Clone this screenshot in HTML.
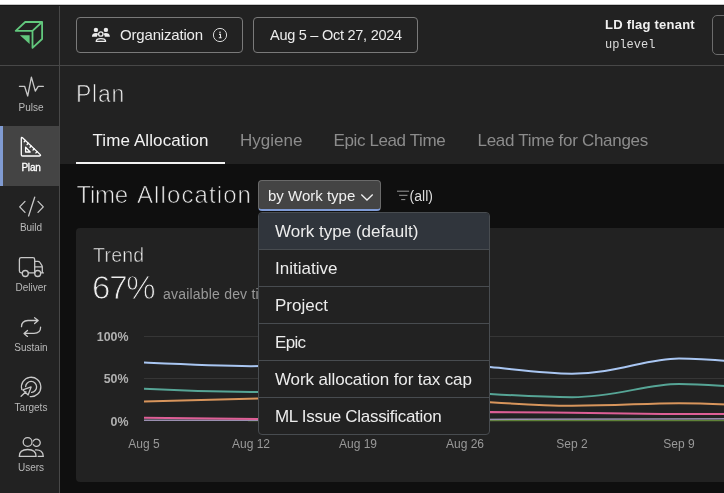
<!DOCTYPE html>
<html>
<head>
<meta charset="utf-8">
<title>Plan - Time Allocation</title>
<style>
  html, body { margin: 0; padding: 0; }
  body {
    width: 724px; height: 493px; overflow: hidden; position: relative;
    background: #ffffff;
    font-family: "Liberation Sans", sans-serif;
    color: #e6e6e6;
  }
  .abs { position: absolute; }
  #app { will-change: transform; position: absolute; left: 0; top: 5px; width: 724px; height: 488px; background: #222222; }
  /* sidebar */
  #sidebar { position: absolute; left: 0; top: 0; width: 59px; height: 488px; background: #222222; border-right: 1px solid #484848; }
  #logo { position: absolute; left: 0; top: 0; width: 59px; height: 60px; border-bottom: 1px solid #484848; }
  .nav { position: absolute; left: 0; width: 59px; height: 60px; }
  .nav.active { background: #444444; }
  .nav.active::before { content: ""; position: absolute; left: 0; top: 0; width: 3px; height: 60px; background: #809bd2; }
  .nav .lbl { position: absolute; left: 1px; width: 60px; top: 36px; text-align: center; font-size: 10px; line-height: 12px; color: #b9b9b9; }
  .nav.active .lbl { color: #ffffff; -webkit-text-stroke: 0.3px #ffffff; letter-spacing: -0.2px; }
  .nav svg { position: absolute; left: 0; top: -1px; }
  .ic { fill: none; stroke: #c8c8c8; stroke-width: 1.3; stroke-linecap: round; stroke-linejoin: round; }
  .nav.active .ic { stroke: #ffffff; }
  /* header */
  #header { position: absolute; left: 60px; top: 0; width: 664px; height: 60px; border-bottom: 1px solid #484848; background: #222222; }
  .hbtn { position: absolute; top: 12px; height: 34px; border: 1px solid #7a7a7a; border-radius: 4px; box-sizing: content-box; font-size: 15px; color: #ececec; }
  /* main */
  #top { position: absolute; left: 60px; top: 61px; width: 664px; height: 98px; background: #222222; }
  #dark { position: absolute; left: 60px; top: 159px; width: 664px; height: 329px; background: #0f0f0f; }
  .tab { position: absolute; top: 124px; font-size: 17px; line-height: 24px; color: #8c8c8c; white-space: nowrap; }
  .tab.on { color: #f2f2f2; }
  #card { position: absolute; left: 76px; top: 223px; width: 660px; height: 254px; background: #222222; border-radius: 4px; }
  #menu { position: absolute; left: 258px; top: 207px; width: 230px; height: 221px; background: #222222; border: 1px solid #484c50; border-radius: 4px; overflow: hidden; }
  .mi { position: absolute; left: 0; width: 230px; height: 36px; border-bottom: 1px solid #484c50; font-size: 17px; line-height: 36px; color: #ececec; white-space: nowrap; }
  .mi span { position: absolute; left: 16px; top: 1px; }
  .mi.hl { background: #30353c; }
</style>
</head>
<body>
<div id="app">

  <!-- header -->
  <div id="header">
    <div class="hbtn" style="left:16px; width:165px;">
      <svg class="abs" style="left:14px; top:9px;" width="20" height="16" viewBox="0 0 20 16">
        <g fill="#ececec">
          <circle cx="4.9" cy="2.9" r="2.2"/>
          <circle cx="14.9" cy="2.9" r="2.2"/>
          <path d="M0.9 9.7 C0.9 7 2.8 6.1 5 6.1 C6 6.1 6.8 6.3 7.4 6.7 C6.5 7.5 6.1 8.6 6 9.7 Z"/>
          <path d="M18.9 9.7 C18.9 7 17 6.1 14.8 6.1 C13.8 6.1 13 6.3 12.4 6.7 C13.3 7.5 13.7 8.6 13.8 9.7 Z"/>
        </g>
        <circle cx="9.8" cy="7" r="2.2" fill="none" stroke="#ececec" stroke-width="1.3"/>
        <path d="M5.2 14.4 C5.2 12.1 7 11.6 9.9 11.6 C12.8 11.6 14.6 12.1 14.6 14.4 Z" fill="none" stroke="#ececec" stroke-width="1.3" stroke-linejoin="round"/>
      </svg>
      <span class="abs" style="left:43px; top:8px; line-height:18px; letter-spacing:-0.18px;">Organization</span>
      <svg class="abs" style="left:135px; top:9px;" width="16" height="16" viewBox="0 0 16 16">
        <circle cx="8" cy="8" r="6.6" fill="none" stroke="#dadada" stroke-width="1"/>
        <circle cx="8" cy="5.3" r="0.8" fill="#e4e4e4"/>
        <path d="M7 7.4 H8.5 V10.6 M6.8 10.8 H9.6" fill="none" stroke="#e4e4e4" stroke-width="1.1"/>
      </svg>
    </div>
    <div class="hbtn" style="left:193px; width:163px;">
      <span class="abs" style="left:16px; top:8px; line-height:18px; white-space:nowrap; font-size:14.5px; letter-spacing:-0.26px;">Aug 5 &ndash; Oct 27, 2024</span>
    </div>
    <div class="abs" style="left:545px; top:12px; font-size:13px; font-weight:bold; line-height:15px; color:#f0f0f0; white-space:nowrap; letter-spacing:0.23px;">LD flag tenant</div>
    <div class="abs" style="left:545px; top:33px; font-family:'Liberation Mono', monospace; font-size:12px; line-height:15px; color:#dcdcdc;">uplevel</div>
    <div class="hbtn" style="left:652px; top:10px; height:38px; width:40px; border-color:#6c6c6c; border-radius:5px;"></div>
  </div>

  <!-- top area -->
  <div id="top"></div>
  <div id="dark"></div>

  <div class="abs" style="left:76px; top:74.6px; font-size:23px; line-height:28px; color:#ececec; letter-spacing:0.75px; -webkit-text-stroke:0.7px #222222;">Plan</div>

  <div class="tab on" style="left:92.5px; letter-spacing:0.1px;">Time Allocation</div>
  <div class="abs" style="left:76px; top:157px; width:149px; height:2px; background:#f2f2f2;"></div>
  <div class="tab" style="left:240px;">Hygiene</div>
  <div class="tab" style="left:333.5px; letter-spacing:-0.38px;">Epic Lead Time</div>
  <div class="tab" style="left:477.5px; letter-spacing:-0.3px;">Lead Time for Changes</div>

  <!-- section heading -->
  <div class="abs" style="left:76.5px; top:176px; font-size:24px; line-height:28px; color:#ececec; letter-spacing:-0.3px; white-space:nowrap; -webkit-text-stroke:0.7px #0f0f0f;">Time</div>
  <div class="abs" style="left:137px; top:176px; font-size:24px; line-height:28px; color:#ececec; letter-spacing:1.1px; white-space:nowrap; -webkit-text-stroke:0.7px #0f0f0f;">Allocation</div>

  <!-- select button -->
  <div class="abs" style="left:258px; top:175px; width:121px; height:28px; background:#444444; border:1px solid #6a6a6a; border-bottom:2px solid #7f9bd6; border-radius:4px;">
    <span class="abs" style="left:9px; top:6.3px; font-size:15px; line-height:18px; color:#f0f0f0; white-space:nowrap;">by Work type</span>
    <svg class="abs" style="left:101px; top:11.6px;" width="14" height="9" viewBox="0 0 14 9"><path d="M1.3 1.5 L7 7 L12.7 1.5" fill="none" stroke="#f0f0f0" stroke-width="1.3"/></svg>
  </div>
  <!-- filter -->
  <svg class="abs" style="left:396px; top:184px;" width="15" height="12" viewBox="0 0 15 12">
    <path d="M1 2.2 H13.1 M3.1 6.3 H11.5 M5.2 10.6 H9.3" fill="none" stroke="#9a9a9a" stroke-width="1"/>
  </svg>
  <div class="abs" style="left:409.6px; top:183px; font-size:14px; line-height:16px; color:#dcdcdc;">(all)</div>

  <!-- card -->
  <div id="card">
    <div class="abs" style="left:17px; top:15px; font-size:19.5px; line-height:24px; color:#ececec; letter-spacing:0.25px; -webkit-text-stroke:0.5px #222222;">Trend</div>
    <div class="abs" style="left:16px; top:40px; font-size:33px; line-height:40px; color:#ececec; letter-spacing:-1.2px; -webkit-text-stroke:0.9px #222222;">67%</div>
    <div class="abs" style="left:87px; top:57.3px; font-size:14px; line-height:18px; color:#9a9a9a; white-space:nowrap; letter-spacing:0.2px;">available dev time</div>

    <!-- chart -->
    <svg class="abs" style="left:0; top:90px;" width="660" height="160" viewBox="0 0 660 160">
      <g stroke="#363636" stroke-width="1">
        <line x1="68" y1="18.5" x2="660" y2="18.5"/>
        <line x1="68" y1="60.5" x2="660" y2="60.5"/>
        <line x1="68" y1="102.5" x2="660" y2="102.5"/>
      </g>
      <g fill="none" stroke-width="2" stroke-linecap="butt">
        <path stroke="#5f8238" stroke-width="1.5" d="M172 102.4 L660 102.5"/>
        <path stroke="#9a8fb0" stroke-width="1.5" d="M68 102.2 L182 102.2 C300 102 450 101.2 564 100.9 L660 100.8"/>
        <path stroke="#de5f96" d="M68 99.8 C100 100.2 140 100.7 182 101.1 C260 100 330 96 414 94.1 C450 94.2 470 94.5 496 94.8 C540 95.5 570 96 603 96.1 C620 96.1 640 96.1 660 96.1"/>
        <path stroke="#d8955c" d="M68 83.4 C100 82.5 140 81.5 182 80.6 C260 79 340 81 414 84.2 C440 86 470 87.8 496 87.8 C540 87.8 570 85.2 603 85.2 C625 85.2 640 86 660 86.8"/>
        <path stroke="#56a596" d="M68 70.8 C100 72.5 140 73.8 175 74.1 C260 74 340 73 414 75.9 C440 77.5 470 79.2 496 79.2 C540 79.2 570 66 603 66 C625 66 640 67.5 660 68.6"/>
        <path stroke="#a9c6f2" d="M68 44.6 C100 46 140 47.8 175 48.3 C260 46 340 44 414 49.1 C440 51.5 470 55.7 496 55.7 C540 55.7 570 40.4 603 40.4 C625 40.4 640 42 660 43.8"/>
      </g>
      <g font-family="Liberation Sans, sans-serif" font-size="12.4" font-weight="bold" fill="#b0b0b0" text-anchor="end">
        <text x="52.5" y="23">100%</text>
        <text x="52.5" y="65">50%</text>
        <text x="52.5" y="108">0%</text>
      </g>
      <g font-family="Liberation Sans, sans-serif" font-size="12" fill="#999999" text-anchor="middle">
        <text x="68" y="130">Aug 5</text>
        <text x="175" y="130">Aug 12</text>
        <text x="282" y="130">Aug 19</text>
        <text x="389" y="130">Aug 26</text>
        <text x="496" y="130">Sep 2</text>
        <text x="603" y="130">Sep 9</text>
      </g>
    </svg>
  </div>

  <!-- dropdown menu -->
  <div id="menu">
    <div class="mi hl" style="top:0;"><span>Work type (default)</span></div>
    <div class="mi" style="top:37px;"><span>Initiative</span></div>
    <div class="mi" style="top:74px;"><span>Project</span></div>
    <div class="mi" style="top:111px;"><span style="letter-spacing:-0.7px;">Epic</span></div>
    <div class="mi" style="top:148px;"><span style="letter-spacing:-0.12px;">Work allocation for tax cap</span></div>
    <div class="mi" style="top:185px; border-bottom:none;"><span style="letter-spacing:-0.3px;">ML Issue Classification</span></div>
  </div>

  <!-- sidebar -->
  <div id="sidebar">
    <div id="logo">
      <svg class="abs" style="left:0; top:0;" width="59" height="59" viewBox="0 0 59 59">
        <path d="M25.2 17 H42.1 V34 L32.5 42.8 V25.8 H15.7 Z M32.5 25.8 L42.1 17" fill="none" stroke="#62c87d" stroke-width="1.8" stroke-linejoin="round"/>
        <path d="M19.9 30.2 H29.6 V39 Z" fill="#62c87d"/>
      </svg>
    </div>

    <div class="nav" style="top:61px;">
      <svg width="60" height="60" viewBox="0 0 60 60"><path class="ic" d="M19.4 21.3 H24.6 L27.7 31 L31.4 12.2 L35.3 26.2 L38.2 21.3 H43.4"/></svg>
      <div class="lbl">Pulse</div>
    </div>
    <div class="nav active" style="top:121px;">
      <svg width="60" height="60" viewBox="0 0 60 60" style="top:-1px;">
        <path class="ic" d="M21.3 13.6 Q21.3 11.6 22.8 13 L40 29.4 Q41.4 31 39.4 31 H22.6 Q21.3 31 21.3 29.7 Z"/>
        <path class="ic" d="M25.6 22.2 V27 H30.2 Z"/>
        <path class="ic" d="M25.4 15.5 L24.2 16.7 M28.3 18.3 L27.1 19.5 M31.2 21 L30 22.3 M34.2 23.8 L33 25.1 M37.1 26.6 L35.9 27.9" stroke-width="1" stroke-linecap="butt"/>
      </svg>
      <div class="lbl">Plan</div>
    </div>
    <div class="nav" style="top:181px;">
      <svg width="60" height="60" viewBox="0 0 60 60"><path class="ic" d="M25 16.4 L19.7 21.9 L25 27.4 M28.6 31 L34.7 12.2 M38 16.4 L43.3 21.9 L38 27.4"/></svg>
      <div class="lbl">Build</div>
    </div>
    <div class="nav" style="top:241px;">
      <svg width="60" height="60" viewBox="0 0 60 60">
        <g transform="translate(0,0.5)">
        <path class="ic" d="M22.2 27.4 H21.2 Q19.4 27.4 19.4 25.6 V14 Q19.4 12.2 21.2 12.2 H32.9 Q34.7 12.2 34.7 14 V27.4 M28.4 27.4 H34.5"/>
        <path class="ic" d="M34.7 15.8 H37.8 Q39.2 15.8 40 17 L41.8 19.8 Q42.3 20.7 42.3 21.8 V27.4 H43.4 M40.8 27.4 H42.3 M34.7 21.3 H42.3"/>
        <circle class="ic" cx="25.3" cy="28" r="3"/>
        <circle class="ic" cx="37.7" cy="28" r="3"/>
        </g>
      </svg>
      <div class="lbl">Deliver</div>
    </div>
    <div class="nav" style="top:301px;">
      <svg width="60" height="60" viewBox="0 0 60 60">
        <path class="ic" d="M21.5 21.7 C21.5 17.6 24 15.7 28 15.5 L38 15.4 M34.6 12.7 L38.2 15.4 L34.6 18.5"/>
        <path class="ic" d="M40.6 22.2 C40.6 26.3 38 28.2 34 28.4 L24.2 28.4 M27.5 25.4 L24 28.4 L27.5 31.4"/>
      </svg>
      <div class="lbl">Sustain</div>
    </div>
    <div class="nav" style="top:361px;">
      <svg width="60" height="60" viewBox="0 0 60 60">
        <path class="ic" d="M21.8 24.6 A9.7 9.7 0 1 1 30.2 31.6"/>
        <path class="ic" d="M25.6 21.6 A5.5 5.5 0 1 1 31.6 27.4"/>
        <path class="ic" d="M21.1 31.3 L25.9 26.8 M22.8 24.9 L31.1 21.9 L28.1 30 Z"/>
      </svg>
      <div class="lbl">Targets</div>
    </div>
    <div class="nav" style="top:421px;">
      <svg width="60" height="60" viewBox="0 0 60 60">
        <circle class="ic" cx="27.6" cy="17" r="4.4"/>
        <path class="ic" d="M19.3 31.4 C19.3 26.2 23 24.5 27.7 24.5 C32.4 24.5 36.1 26.2 36.1 31.4 Z"/>
        <path class="ic" d="M33.3 16 A3.7 3.7 0 1 1 33.3 19.5"/>
        <path class="ic" d="M35.6 24.9 C40 24.7 43.3 26.6 43.3 31.4 H38.2"/>
      </svg>
      <div class="lbl">Users</div>
    </div>
  </div>
  <div class="abs" style="left:0; top:-1px; width:724px; height:1px; background:#c8c8c8; z-index:50;"></div>
  <div class="abs" style="left:0; top:0; width:724px; height:1px; background:#161616; z-index:50;"></div>
</div>
</body>
</html>
